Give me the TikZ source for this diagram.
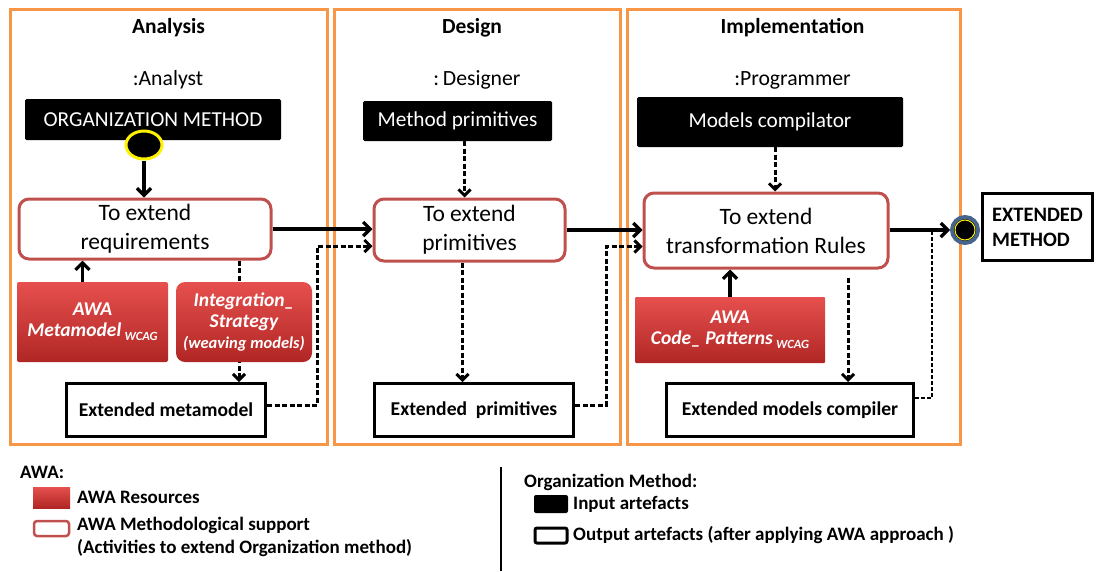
\documentclass[tikz,border=0pt]{standalone}
\usepackage{fontspec}
\setmainfont{Carlito}
\usetikzlibrary{arrows.meta,calc,shapes.geometric}

\definecolor{panelorange}{RGB}{247,150,70}
\definecolor{supportred}{RGB}{192,80,77}
\definecolor{restop}{RGB}{230,80,78}
\definecolor{resbot}{RGB}{176,38,36}
\definecolor{ringblue}{RGB}{70,100,140}

\pgfdeclarelayer{panels}
\pgfdeclarelayer{wires}
\pgfsetlayers{panels,wires,main}

\newcommand{\wcag}{{\fontsize{12.5}{12.5}\selectfont\raisebox{-4pt}{WCAG}}}

\begin{document}
\begin{tikzpicture}[x=1pt,y=-1pt,
  panel/.style={draw=panelorange, line width=3pt},
  titletext/.style={font=\fontsize{21.5}{24}\selectfont\bfseries},
  roletext/.style={font=\fontsize{21.7}{24}\selectfont},
  inputbox/.style={fill=black, text=white, rounded corners=1.5pt, inner sep=0pt,
    font=\fontsize{21.3}{24}\selectfont},
  supportbox/.style={draw=supportred, line width=3pt, fill=white, rounded corners=10pt,
    align=center, inner sep=0pt, font=\fontsize{23.5}{29}\selectfont},
  resbox/.style={top color=restop, bottom color=resbot, text=white, align=center,
    inner sep=0pt, font=\fontsize{19.5}{21}\selectfont\bfseries\itshape},
  outbox/.style={draw=black, line width=3pt, fill=white, inner sep=0pt,
    font=\fontsize{19.6}{22}\selectfont\bfseries},
  startnode/.style={ellipse, fill=black, draw=yellow, line width=3pt, inner sep=0pt,
    minimum width=36pt, minimum height=28pt},
  endnode/.style={circle, fill=black, draw=ringblue, line width=4pt, inner sep=0pt,
    minimum size=26pt,
    path picture={\draw[yellow, line width=1pt] (path picture bounding box.center) circle (10pt);}},
  legendtext/.style={font=\fontsize{19}{23}\selectfont\bfseries, inner sep=0pt},
  flow/.style={line width=3.2pt, -{Straight Barb[length=7pt,width=14pt]}},
  dashflow/.style={line width=3pt, dash pattern=on 5pt off 2.5pt,
    -{Straight Barb[length=6pt,width=12pt]}},
  dashthin/.style={line width=2pt, dash pattern=on 4pt off 2pt}
]
\useasboundingbox (0,0) rectangle (1097,571);

% swimlanes
\begin{pgfonlayer}{panels}
  \draw[panel] (10,9) rectangle (327,444);
  \draw[panel] (334,9) rectangle (620,444);
  \draw[panel] (627,9) rectangle (960,444);
\end{pgfonlayer}

% lane headers
\node[titletext] (tA) at (168.5,28) {Analysis};
\node[roletext] (rA) at (168,80) {:Analyst};
\node[titletext] (tD) at (472,28) {Design};
\node[roletext] (rD) at (477,80) {:\,Designer};
\node[titletext] (tI) at (792.5,28) {Implementation};
\node[roletext] (rI) at (792.5,80) {:Programmer};

% input artefacts
\node[inputbox, minimum width=256pt, minimum height=41pt] (orgm) at (153,119.5) {ORGANIZATION METHOD};
\node[startnode] (start) at (144,145) {};
\node[inputbox, minimum width=189pt, minimum height=40pt] (mprim) at (457.5,121) {Method primitives};
\node[inputbox, minimum width=266pt, minimum height=50pt] (mcomp) at (770,122) {Models compilator};

% activities
\node[supportbox, minimum width=252pt, minimum height=60pt] (req) at (145,229) {To extend\\requirements};
\node[supportbox, minimum width=191pt, minimum height=62pt] (prim) at (469.5,230) {To extend\\primitives};
\node[supportbox, minimum width=244pt, minimum height=75pt] (trans) at (766,230.5) {To extend\\transformation Rules};

% resources
\node[resbox, rounded corners=2pt, minimum width=151pt, minimum height=80pt] (meta) at (92.5,322) {AWA\\Metamodel\,\wcag};
\node[resbox, rounded corners=9pt, minimum width=136pt, minimum height=80pt] (integ) at (244,322)
  {Integration\_\\Strategy\\{\fontsize{16.5}{18}\selectfont(weaving models)}};
\node[resbox, rounded corners=1pt, minimum width=190pt, minimum height=66pt] (code) at (730,330) {AWA\\Code\_ Patterns\,\wcag};

% output artefacts
\node[outbox, minimum width=199pt, minimum height=53pt] (extmeta) at (166,410) {Extended metamodel};
\node[outbox, minimum width=199pt, minimum height=53pt] (extprim) at (474,410) {Extended\ \ primitives};
\node[outbox, minimum width=247pt, minimum height=53pt] (extcomp) at (790,410) {Extended models compiler};
\node[outbox, minimum width=110pt, minimum height=67pt, align=left,
  font=\fontsize{20.5}{25}\selectfont\bfseries] (extmeth) at (1037.5,227) {EXTENDED\\METHOD};
\node[endnode] (endc) at (965,230) {};

% connectors
\begin{pgfonlayer}{wires}
  \draw[flow] (start) -- (start |- req.north);
  \coordinate (mA) at ([xshift=-10pt]meta.north);
  \draw[flow] (mA) -- (mA |- req.south);
  \coordinate (iA) at ([xshift=-5pt]integ.north);
  \draw[dashflow] (iA |- req.south) -- (iA |- extmeta.north);
  \coordinate (pinP) at ([yshift=-16pt]prim.west);
  \draw[dashflow] ([yshift=5pt]extmeta.east) -- ++(50,0) |- (pinP);
  \draw[flow] (req.east) -- (req.east -| prim.west);
  \coordinate (mp) at ([xshift=7pt]mprim.south);
  \draw[dashflow] (mp) -- (mp |- prim.north);
  \coordinate (pp) at ([xshift=-7pt]prim.south);
  \draw[dashflow] (pp) -- (pp |- extprim.north);
  \coordinate (pinT) at ([yshift=-16pt]trans.west);
  \draw[dashflow] ([yshift=5pt]extprim.east) -- ++(31,0) |- (pinT);
  \draw[flow] (prim.east) -- (prim.east -| trans.west);
  \coordinate (mc) at ([xshift=5pt]mcomp.south);
  \draw[dashflow] (mc) -- (mc |- trans.north);
  \draw[flow] (code.north) -- (code.north |- trans.south);
  \coordinate (tc) at ([xshift=82pt]trans.south);
  \draw[dashflow, shorten <=8pt] (tc) -- (tc |- extcomp.north);
  \coordinate (ec) at ([yshift=12pt]extcomp.east);
  \coordinate (jn) at ($(ec)+(17,0)$);
  \draw[dashthin] (ec) -- (jn) -- (jn |- endc.center);
  \draw[flow] (endc -| trans.east) -- (endc);
\end{pgfonlayer}

% legend
\node[legendtext, anchor=west] (awa) at (20,472) {AWA:};
\node[resbox, minimum width=37pt, minimum height=21pt] (keyres) at (51.5,497.5) {};
\node[legendtext, anchor=west] (keyrestxt) at (77,497) {AWA Resources};
\node[draw=supportred, line width=2.5pt, fill=white, rounded corners=3pt,
  minimum width=35pt, minimum height=15pt, inner sep=0pt] (keysup) at (51.5,528.5) {};
\node[legendtext, anchor=north west, align=left] (keysuptxt) at (77,517)
  {AWA Methodological support\\(Activities to extend Organization method)};
\draw[line width=2pt] (501,467) -- (501,571);
\node[legendtext, anchor=west] (orgkey) at (524,482) {Organization Method:};
\node[fill=black, rounded corners=2pt, minimum width=34pt, minimum height=18pt, inner sep=0pt] (keyin) at (551,504) {};
\node[legendtext, anchor=west] (keyintxt) at (573,504) {Input artefacts};
\node[draw=black, line width=3pt, fill=white, rounded corners=2pt, minimum width=32pt,
  minimum height=15pt, inner sep=0pt] (keyout) at (551,535.5) {};
\node[legendtext, anchor=west] (keyouttxt) at (573,535) {Output artefacts (after applying AWA approach )};
\end{tikzpicture}
\end{document}
